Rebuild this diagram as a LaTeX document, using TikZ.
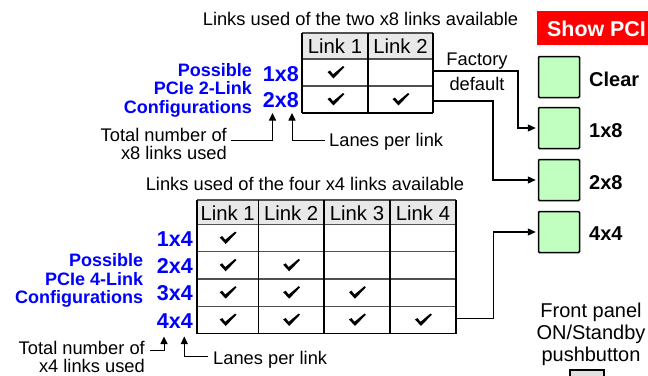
\documentclass[tikz,border=0pt]{standalone}
\usepackage{fontspec}
\setmainfont{Liberation Sans}
\usetikzlibrary{arrows.meta}
\definecolor{cblue}{RGB}{0,0,255}
\definecolor{cgreen}{RGB}{192,255,192}
\definecolor{hdr}{RGB}{232,232,232}
\definecolor{gridc}{RGB}{80,80,80}
\definecolor{btn}{RGB}{225,225,225}
\newcommand{\mlr}[1]{\begin{tabular}[t]{@{}r@{}}#1\end{tabular}}
\newcommand{\mlc}[1]{\begin{tabular}[t]{@{}c@{}}#1\end{tabular}}
\begin{document}
\begin{tikzpicture}[x=1pt,y=-1pt,
  txt/.style={inner sep=0pt, font=\fontsize{18.3}{18.2}\selectfont},
  hdrtxt/.style={inner sep=0pt, anchor=base, font=\fontsize{20.3}{20}\selectfont},
  bl/.style={inner sep=0pt, font=\bfseries\fontsize{18}{18.3}\selectfont, text=cblue, anchor=base east},
  cfg/.style={inner sep=0pt, font=\bfseries\fontsize{21.5}{22}\selectfont, text=cblue, anchor=base east},
  gbox/.style={draw=black, line width=1.5pt, fill=cgreen, minimum width=41pt, minimum height=41pt, inner sep=0pt, rounded corners=1pt},
  glab/.style={inner sep=0pt, font=\bfseries\fontsize{20}{20}\selectfont, anchor=base west},
  arr/.style={line width=1.3pt, -{Triangle[length=8pt,width=7pt]}},
  sarr/.style={line width=1pt, -{Triangle[length=7.5pt,width=7pt]}},
  hl/.style={gridc, line width=1.3pt},
  vl/.style={black, line width=1.1pt},
  chk/.pic={\fill (-8,-0.5) -- (-5.5,-2) -- (-2.5,1.8) -- (7.5,-6.5) -- (8.8,-5.3) -- (-2,6) -- cycle;}
]
\useasboundingbox (0,0) rectangle (648,375);

% ---------- top table ----------
\node[txt, anchor=base] (title8) at (360.5,25) {Links used of the two x8 links available};
\fill[hdr] (302,33) rectangle (433,59);
\foreach \y in {33,59,86} \draw[hl] (302,\y) -- (433,\y);
\draw[vl] (302,113) -- (433,113);
\foreach \x in {302,368,433} \draw[vl] (\x,33) -- (\x,113);
\node[hdrtxt] (h8a) at (335,53) {Link 1};
\node[hdrtxt] (h8b) at (400.5,53) {Link 2};
\pic at (335.5,72.5) {chk};
\pic at (335.5,99.5) {chk};
\pic at (400.5,99.5) {chk};
\coordinate (tr1) at (433,71);
\coordinate (tr2) at (433,101);

\node[cfg] (c1x8) at (299,81.5) {1x8};
\node[cfg] (c2x8) at (299,107.3) {2x8};
\node[bl] (pos2) at (252,76) {\mlr{Possible\\PCIe 2-Link\\Configurations}};
\node[txt, anchor=base east] (tot8) at (227,141) {\mlr{Total number of\\x8 links used}};
\node[txt, anchor=base west] (lane8) at (329,146) {Lanes per link};
\coordinate (s81) at (231,140.7);
\coordinate (tip81) at (272.5,113);
\coordinate (s82) at (325,140.7);
\coordinate (tip82) at (292,113);
\draw[sarr] (s81) -| (tip81);
\draw[sarr] (s82) -| (tip82);

\node[txt, anchor=base, font=\fontsize{18.3}{24.3}\selectfont] (fac) at (477,65.7) {\mlc{Factory\\default}};

% ---------- right column ----------
\begin{scope}
\clip (0,0) rectangle (648,375);
\fill[red] (537,11) rectangle (660,45);
\node[inner sep=0pt, anchor=base west, text=white, font=\bfseries\fontsize{21.4}{22}\selectfont] (show) at (547,36) {Show PCI};
\draw[fill=btn, line width=1.2pt] (570,370) rectangle (604,390);
\end{scope}

\node[gbox] (bclear) at (559,77) {};
\node[gbox] (b1x8) at (559,128) {};
\node[gbox] (b2x8) at (559,180) {};
\node[gbox] (b4x4) at (559,232) {};
\node[glab] (lclear) at (589,86) {Clear};
\node[glab] (l1x8) at (589,137) {1x8};
\node[glab] (l2x8) at (589,189) {2x8};
\node[glab] (l4x4) at (589,240.5) {4x4};

\draw[arr, shorten >=2pt] (tr1) -- ++(85,0) |- (b1x8.west);
\draw[arr, shorten >=2pt] (tr2) -- ++(60,0) |- (b2x8.west);

\node[txt, anchor=base, font=\fontsize{20}{22}\selectfont] (front) at (591,317.3) {\mlc{Front panel\\ON/Standby\\pushbutton}};

% ---------- bottom table ----------
\node[txt, anchor=base] (title4) at (305,190.7) {Links used of the four x4 links available};
\fill[hdr] (197,200) rectangle (456,224.3);
\foreach \y in {200,224.3,251.7,279,306.3} \draw[hl] (197,\y) -- (456,\y);
\draw[vl] (197,333.7) -- (456,333.7);
\foreach \x in {197,258.5,324,390,456} \draw[vl] (\x,200) -- (\x,333.7);
\node[hdrtxt] (h4a) at (227.7,220) {Link 1};
\node[hdrtxt] (h4b) at (291.2,220) {Link 2};
\node[hdrtxt] (h4c) at (357,220) {Link 3};
\node[hdrtxt] (h4d) at (423,220) {Link 4};
\pic at (227.7,238) {chk};
\pic at (227.7,265.3) {chk};
\pic at (291.2,265.3) {chk};
\pic at (227.7,292.7) {chk};
\pic at (291.2,292.7) {chk};
\pic at (357,292.7) {chk};
\pic at (227.7,320) {chk};
\pic at (291.2,320) {chk};
\pic at (357,320) {chk};
\pic at (423,320) {chk};
\coordinate (br4) at (456,318.5);
\draw[arr, shorten >=2pt] (br4) -- ++(37.5,0) |- (b4x4.west);

\node[cfg] (c1x4) at (193,246) {1x4};
\node[cfg] (c2x4) at (193,273.3) {2x4};
\node[cfg] (c3x4) at (193,300.7) {3x4};
\node[cfg] (c4x4) at (193,328) {4x4};
\node[bl] (pos4) at (143.3,266.7) {\mlr{Possible\\PCIe 4-Link\\Configurations}};
\node[txt, anchor=south east, align=right, font=\fontsize{18.3}{18}\selectfont] (tot4) at (145,372.5) {Total number of\\x4 links used};
\node[txt, anchor=base west] (lane4) at (213,364.3) {Lanes per link};
\coordinate (s41) at (150,350);
\coordinate (tip41) at (164,336.5);
\coordinate (s42) at (208.3,356);
\coordinate (tip42) at (184.3,336.5);
\draw[sarr] (s41) -| (tip41);
\draw[sarr] (s42) -| (tip42);
\end{tikzpicture}
\end{document}
